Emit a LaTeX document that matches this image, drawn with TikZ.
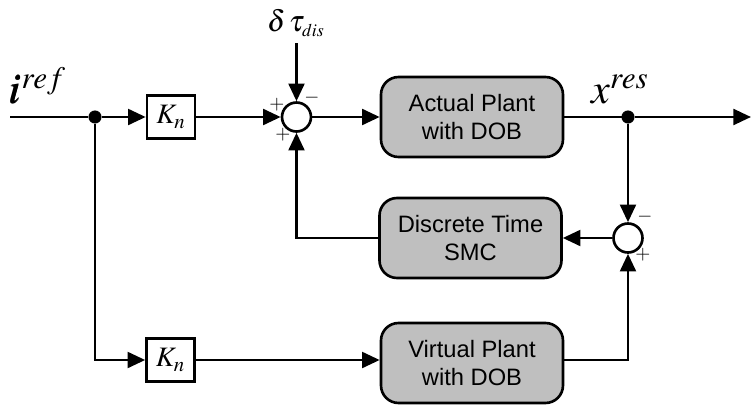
\documentclass[tikz,border=0pt]{standalone}
\usepackage{amsmath}
\usepackage{mathptmx}
\usepackage{fontspec}
\setsansfont{Liberation Sans}
\usetikzlibrary{arrows.meta}
\tikzstyle{vertex}=[circle, draw, fill=black, inner sep=0pt, minimum size=7pt]
\tikzstyle{edge}=[line width=1.5pt]
\tikzstyle{dedge}=[edge,-{Triangle[length=10pt,width=9pt]}]
\tikzstyle{gain}=[draw, line width=1.5pt, fill=white, minimum width=48*0.02cm, minimum height=43*0.02cm, inner sep=0pt, font=\fontsize{16}{16}\selectfont]
\tikzstyle{plant}=[draw, line width=1.5pt, fill=black!25, rounded corners=10pt, minimum width=182*0.02cm, minimum height=80*0.02cm, align=center, font=\sffamily\fontsize{13.5}{16}\selectfont]
\tikzstyle{summer}=[circle, draw, line width=1.5pt, fill=white, inner sep=0pt, minimum size=29*0.02cm]
\tikzstyle{signsty}=[font=\fontsize{11}{11}\selectfont, inner sep=0pt]
\tikzstyle{bigsty}=[font=\fontsize{24}{24}\selectfont, inner sep=0pt]
\begin{document}
\begin{tikzpicture}[x=0.02cm, y=-0.02cm]
					\useasboundingbox (0,0) rectangle (752,406);
					
					\coordinate (in) at (10,117);
					\coordinate (dist) at (296.5,43);
					\coordinate (out) at (751,117);
					\coordinate (fb) at (296.5,238);
					
					\node[vertex] (d1) at (95,117) {};
					\node[vertex] (d2) at (628,117) {};
					\node[gain] (kn1) at (171,117) {$K_n$};
					\node[gain] (kn2) at (170.5,360) {$K_n$};
					\node[summer] (s1) at (296.5,117) {};
					\node[summer] (s2) at (628,238) {};
					\node[plant] (ap) at (472,117) {Actual Plant\\with DOB};
					\node[plant] (smc) at (470.5,238) {Discrete Time\\SMC};
					\node[plant] (vp) at (472,363) {Virtual Plant\\with DOB};
					
					\node[bigsty] (iref) at (38,86) {$\pmb{i}^{ref}$};
					\node[bigsty] (xres) at (620,89) {$x^{res}$};
					\node[font=\fontsize{17}{17}\selectfont, inner sep=0pt] (dtau) at (296,23) {$\delta\mkern2mu\tau_{\scriptscriptstyle dis}$};
					
					\node[signsty] (p1) at (277,105) {$+$};
					\node[signsty] (p2) at (283,135) {$+$};
					\node[signsty] (m1) at (312,98) {$-$};
					\node[signsty] (m2) at (645,217) {$-$};
					\node[signsty] (p3) at (643,255) {$+$};
					
					\draw[edge] (in) -- (d1);
					\draw[dedge] (d1) -- (kn1);
					\draw[dedge] (kn1) -- (s1);
					\draw[dedge] (dist) -- (s1);
					\draw[dedge] (s1) -- (ap);
					\draw[edge] (ap) -- (d2);
					\draw[dedge] (d2) -- (out);
					\draw[dedge] (d2) -- (s2);
					\draw[dedge] (s2) -- (smc);
					\draw[dedge] (smc.west) -- (fb) -- (s1);
					\draw[dedge] (d1) |- (kn2);
					\draw[dedge] (kn2.east) -- (kn2.east -| vp.west);
					\draw[dedge] (kn2.east -| vp.east) -| (s2);
				\end{tikzpicture}
\end{document}
